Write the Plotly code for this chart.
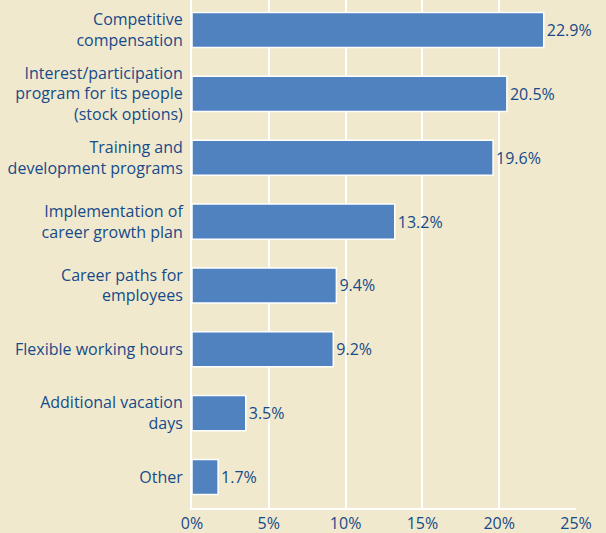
import plotly.graph_objects as go

categories = [
    "Competitive<br>compensation",
    "Interest/participation<br>program for its people<br>(stock options)",
    "Training and<br>development programs",
    "Implementation of<br>career growth plan",
    "Career paths for<br>employees",
    "Flexible working hours",
    "Additional vacation<br>days",
    "Other",
]
values = [22.9, 20.5, 19.6, 13.2, 9.4, 9.2, 3.5, 1.7]
tick_vals = [0, 5, 10, 15, 20, 25]
tick_text = ["0%", "5%", "10%", "15%", "20%", "25%"]

bg = "#F1E9CD"
bar_color = "#4F82BF"
text_color = "#164A8A"

fig = go.Figure(go.Bar(
    x=values, y=categories, orientation="h",
    marker=dict(color=bar_color, line=dict(color="white", width=1.5)),
    width=0.55,
    text=[f"{v}%" for v in values], textposition="outside",
    textfont=dict(color=text_color, size=16),
    cliponaxis=False,
))

fig.update_layout(
    width=606, height=533,
    margin=dict(l=192, r=30, t=0, b=25, autoexpand=False),
    paper_bgcolor=bg, plot_bgcolor=bg,
    font=dict(family="Open Sans", size=16, color=text_color),
    showlegend=False,
    bargap=0.45,
)
fig.update_xaxes(
    range=[0, 25], tickvals=tick_vals, ticktext=tick_text,
    showgrid=True, gridcolor="white", gridwidth=2,
    showline=True, linecolor="white", linewidth=2,
    zeroline=False, tickfont=dict(size=16, color=text_color),
    ticks="", automargin=False, fixedrange=True,
)
fig.update_yaxes(
    range=[7.485, -0.47], showgrid=False,
    showline=True, linecolor="white", linewidth=2,
    ticks="outside", ticklen=4, tickcolor="rgba(0,0,0,0)",
    tickfont=dict(size=16, color=text_color),
    automargin=False, fixedrange=True,
)
fig.write_html(
    "out.html",
    config={"displayModeBar": False},
    post_script="document.body.style.margin='0';document.body.style.background='%s';" % bg,
)
